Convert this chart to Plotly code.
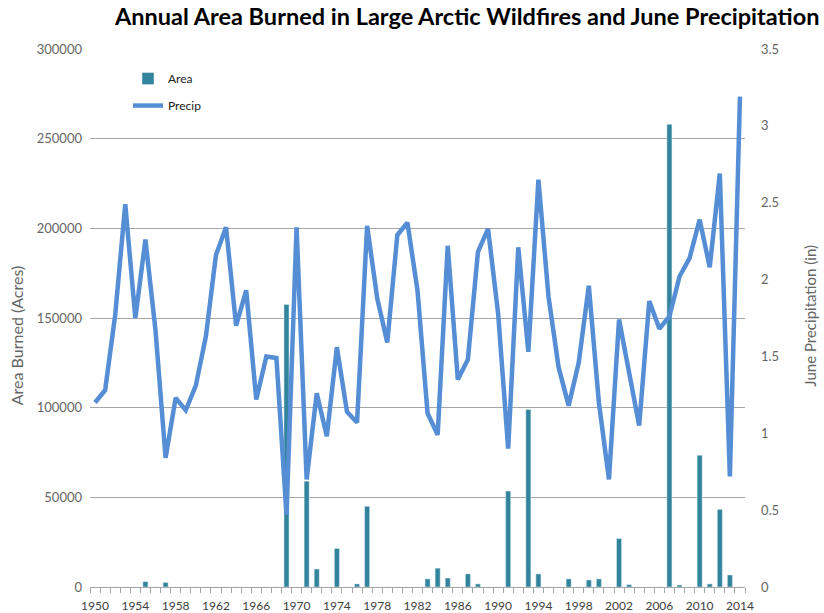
import plotly.graph_objects as go

years = list(range(1950, 2015))

area = [0, 0, 0, 0, 0, 3000, 0, 2500, 0, 0,
        0, 0, 0, 0, 0, 0, 0, 0, 0, 157500,
        0, 59000, 10000, 0, 21500, 0, 1700, 45000, 0, 0,
        0, 0, 0, 4500, 10500, 5000, 0, 7300, 1700, 0,
        0, 53500, 0, 99000, 7300, 0, 0, 4500, 0, 3900,
        4500, 0, 27000, 1300, 0, 0, 0, 258000, 1100, 0,
        73500, 1700, 43300, 6700, 0]

precip = [1.20, 1.28, 1.77, 2.49, 1.75, 2.26, 1.67, 0.84, 1.23, 1.15,
          1.31, 1.63, 2.16, 2.34, 1.70, 1.93, 1.22, 1.50, 1.49, 0.47,
          2.34, 0.70, 1.26, 0.98, 1.56, 1.14, 1.07, 2.35, 1.88, 1.59,
          2.29, 2.37, 1.93, 1.13, 0.99, 2.22, 1.35, 1.48, 2.18, 2.33,
          1.78, 0.90, 2.21, 1.53, 2.65, 1.89, 1.43, 1.18, 1.46, 1.96,
          1.20, 0.70, 1.74, 1.41, 1.05, 1.86, 1.68, 1.76, 2.02, 2.14,
          2.39, 2.08, 2.69, 0.72, 3.19]

x_tick_labels = [str(y) for y in range(1950, 2015, 4)]
left_ticks = [0, 50000, 100000, 150000, 200000, 250000, 300000]
right_ticks = [0, 0.5, 1, 1.5, 2, 2.5, 3, 3.5]
right_tick_text = ["0", "0.5", "1", "1.5", "2", "2.5", "3", "3.5"]

BAR_COLOR = "#31849B"
LINE_COLOR = "#558ED5"
GRAY = "#666666"

fig = go.Figure()
fig.add_trace(go.Bar(x=years, y=area, name="Area", marker_color=BAR_COLOR,
                     width=0.5, yaxis="y", legendgroup="a"))
fig.add_trace(go.Scatter(x=years, y=precip, name="Precip", mode="lines",
                         line=dict(color=LINE_COLOR, width=4.5),
                         yaxis="y2", legendgroup="b"))

fig.update_layout(
    width=824, height=613,
    margin=dict(l=90, r=79, t=49, b=26, autoexpand=False),
    plot_bgcolor="white", paper_bgcolor="white",
    font=dict(family="Lato, sans-serif", color=GRAY, size=12),
    title=dict(text="<b>Annual Area Burned in Large Arctic Wildfires and June Precipitation</b>",
               font=dict(family="Lato, sans-serif", size=23.5, color="black"),
               x=0.567, xanchor="center", xref="container",
               y=1.0, yanchor="top", yref="container", pad=dict(t=9)),
    showlegend=True,
    legend=dict(x=0.058, y=0.972, xanchor="left", yanchor="top",
                bgcolor="rgba(0,0,0,0)", font=dict(size=12, color="#222222"),
                tracegroupgap=8, traceorder="grouped", itemwidth=30),
    bargap=0.5,
    xaxis=dict(range=[1949.5, 2014.5], tickmode="array",
               tickvals=list(range(1950, 2015, 4)), ticktext=x_tick_labels,
               ticks="", showgrid=False, showline=True, linecolor="#A6A6A6",
               linewidth=1, tickfont=dict(size=12, color="#404040"),
               ticklabelstandoff=8, automargin=False,
               minor=dict(tick0=1949.5, dtick=1, ticks="outside", ticklen=5,
                          tickcolor="#A6A6A6", showgrid=False),
               zeroline=False),
    yaxis=dict(range=[0, 300000], tickvals=left_ticks,
               ticktext=[str(v) for v in left_ticks],
               showgrid=True, gridcolor="#A6A6A6", gridwidth=1,
               zeroline=False, showline=False, ticks="", automargin=False,
               tickfont=dict(size=13, color=GRAY), ticklabelstandoff=7),
    yaxis2=dict(range=[0, 3.5], overlaying="y", side="right",
                tickvals=right_ticks, ticktext=right_tick_text,
                showgrid=False, zeroline=False, showline=False, ticks="",
                automargin=False, ticklabelstandoff=15,
                tickfont=dict(size=13, color=GRAY)),
    annotations=[
        dict(text="Area Burned (Acres)", textangle=-90, xref="paper", yref="paper",
             x=-0.113, y=0.468, xanchor="center", yanchor="middle", showarrow=False,
             font=dict(size=16, color=GRAY)),
        dict(text="June Precipitation (in)", textangle=-90, xref="paper", yref="paper",
             x=1.099, y=0.504, xanchor="center", yanchor="middle", showarrow=False,
             font=dict(size=15, color=GRAY)),
    ],
)

fig.write_html("out.html", config={"displayModeBar": False},
               post_script="document.body.style.margin='0';document.body.style.overflow='hidden';")
